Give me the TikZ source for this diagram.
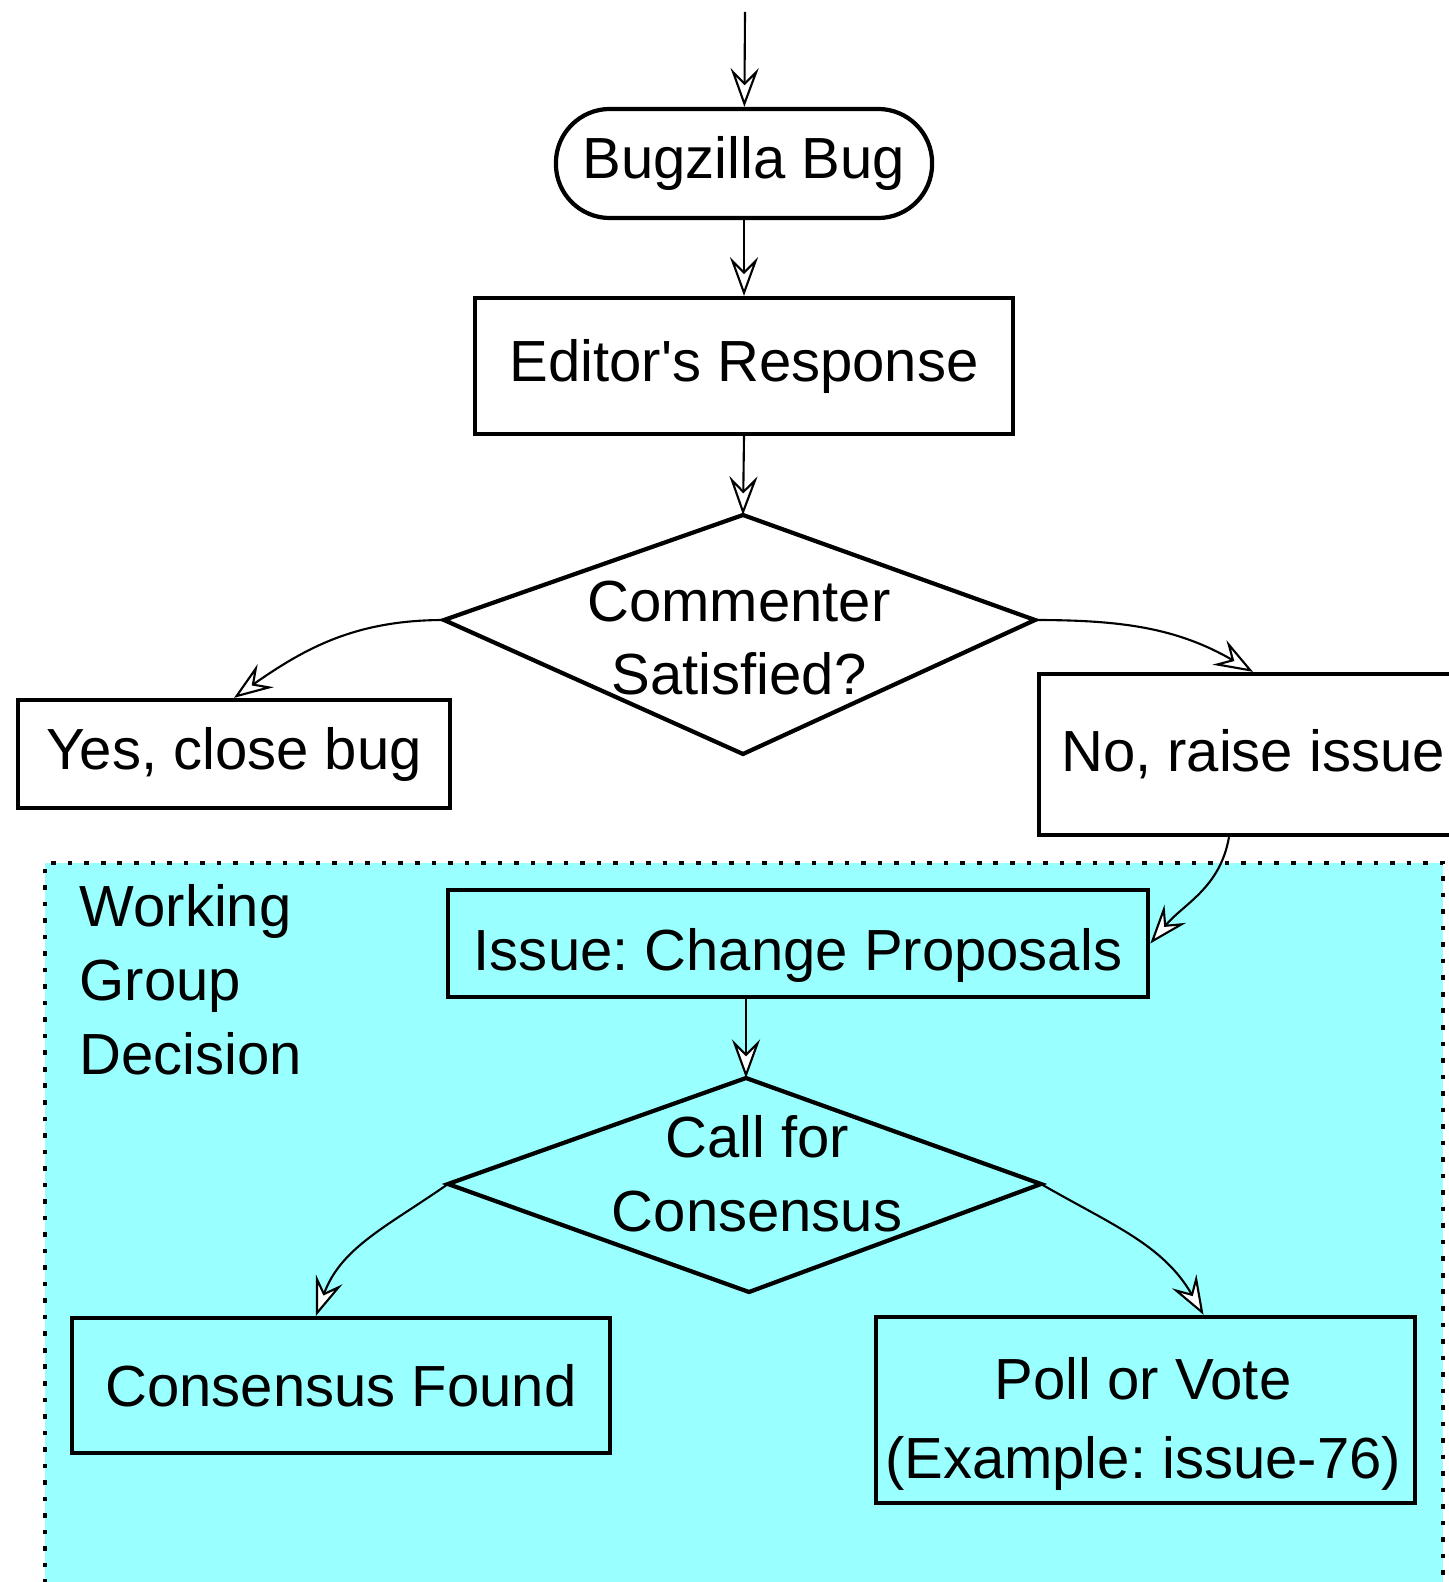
\documentclass[tikz,border=0pt]{standalone}
\usepackage{fontspec}
\setmainfont{Liberation Sans}
\usetikzlibrary{arrows.meta, shapes.geometric}
\definecolor{wgcyan}{RGB}{153,255,255}
\frenchspacing

\tikzset{
  box/.style={draw, line width=1.2pt, rectangle, inner sep=0pt},
  pill/.style={box, rounded corners=0.54cm},
  diam/.style={draw, line width=1.2pt, line join=miter},
  flow/.style={line width=0.6pt, -{Stealth[fill=white, length=11pt, width=8pt, inset=4pt]}}
}

\begin{document}
\begin{tikzpicture}[x=0.01cm, y=-0.01cm, font=\fontsize{16.5}{21}\selectfont]
    \useasboundingbox (0,0) rectangle (1449,1582);
    \clip (0,0) rectangle (1449,1582);

    % Working group area
    \fill[wgcyan] (45,863) rectangle (1443,1650);
    \draw[line width=1.3pt, dash pattern=on 1.3pt off 3.4pt] (45,1650) -- (45,863) -- (1443,863) -- (1443,1650);
    \node[anchor=north west, inner sep=0pt, align=left] (wg) at (79,884) {Working\\Group\\Decision};

    % Start and first steps
    \coordinate (start) at (745,12);
    \node[pill, minimum width=3.76cm, minimum height=1.09cm] (bug) at (744,163.5) {Bugzilla Bug};
    \node[box, minimum width=5.38cm, minimum height=1.36cm] (editor) at (744,366) {Editor\textquotesingle s Response};

    % First decision
    \draw[diam] (743,515) coordinate (d1n) -- (1035,620) coordinate (d1e)
        -- (743,754) coordinate (d1s) -- (444,620) coordinate (d1w) -- cycle;
    \node[inner sep=0pt, align=center] (sat) at (739,638) {Commenter\\Satisfied?};

    % Outcomes
    \node[box, minimum width=4.32cm, minimum height=1.08cm] (yes) at (234,754) {Yes, close bug};
    \node[box, minimum width=4.28cm, minimum height=1.61cm] (no) at (1253,754.5) {No, raise issue};

    % Inside the working group
    \node[box, minimum width=7.00cm, minimum height=1.07cm] (issue) at (798,943.5) {\raisebox{-0.27cm}[0pt][0pt]{Issue: Change Proposals}};
    \draw[diam] (746,1078) coordinate (d2n) -- (1041,1184) coordinate (d2e)
        -- (749,1292) coordinate (d2s) -- (448,1184) coordinate (d2w) -- cycle;
    \node[inner sep=0pt, align=center] (call) at (757,1174) {Call for\\Consensus};
    \node[box, minimum width=5.38cm, minimum height=1.35cm] (found) at (341,1385.5) {Consensus Found};
    \node[box, minimum width=5.39cm, minimum height=1.86cm] (poll) at (1145.5,1410) {};
    \node[inner sep=0pt, align=center, font=\fontsize{16.5}{22.5}\selectfont] (polltext) at (1143,1424) {Poll or Vote\\(Example: issue-76)};

    % Arrows
    \draw[flow] (start) -- (bug);
    \draw[flow] (bug) -- (editor);
    \draw[flow] (editor.south) -- (d1n);
    \draw[flow] (d1w) to[out=180, in=35] (yes.north);
    \draw[flow] (d1e) to[out=0, in=150] (no.north);
    \draw[flow] ([xshift=-0.24cm]no.south) to[out=-100, in=50] (issue.east);
    \draw[flow] (issue.south -| d2n) -- (d2n);
    \draw[flow] (d2w) to[out=-145, in=70] ([xshift=-0.25cm]found.north);
    \draw[flow] (d2e) to[out=-30, in=120] ([xshift=0.58cm]poll.north);
\end{tikzpicture}
\end{document}
